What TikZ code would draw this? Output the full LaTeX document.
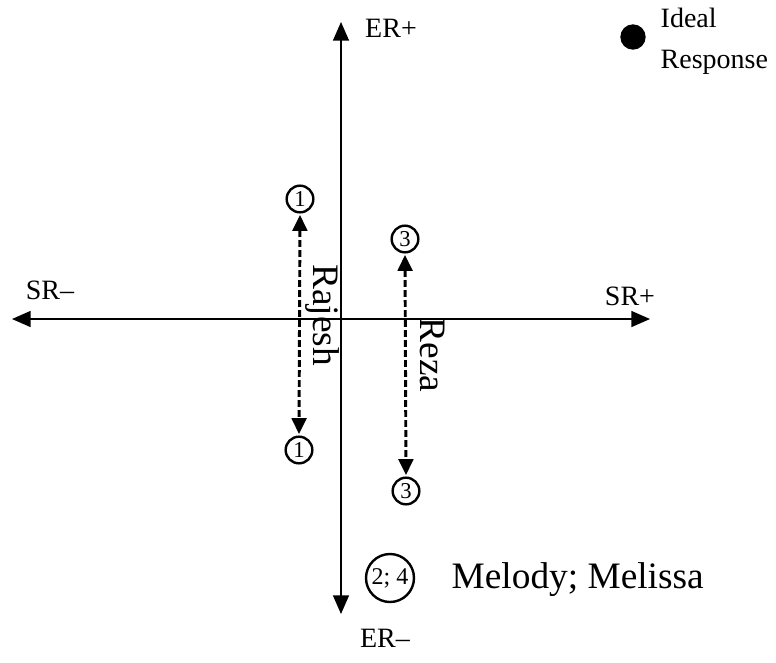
\documentclass[tikz,border=0pt]{standalone}
\usepackage{fontspec}
\setmainfont{Liberation Serif}
\usetikzlibrary{arrows.meta}
\begin{document}
\begin{tikzpicture}[x=0.75pt,y=-0.75pt,
  axis/.style={line width=1.1pt,-{Triangle[length=14pt,width=12pt]}},
  spanline/.style={line width=2.2pt,dash pattern=on 5pt off 2.5pt,
    {Triangle[length=12pt,width=11pt]}-{Triangle[length=12pt,width=11pt]}},
  numbox/.style={circle,draw,line width=1.8pt,inner sep=0pt,minimum size=20pt,font=\fontsize{17}{17}\selectfont},
  axlabel/.style={font=\fontsize{21}{21}\selectfont},
  person/.style={font=\fontsize{28}{28}\selectfont}]
\useasboundingbox (0,0) rectangle (776,662);
% axes
\coordinate (o) at (341,319);
\coordinate (top) at (341,22);
\coordinate (bot) at (341,614);
\coordinate (lft) at (12,319);
\coordinate (rgt) at (650,319);
\draw[axis] (o) -- (top);
\draw[axis] (o) -- (bot);
\draw[axis] (o) -- (lft);
\draw[axis] (o) -- (rgt);
\node[axlabel] (erp) at (391,28) {ER+};
\node[axlabel] (erm) at (385,638) {ER--};
\node[axlabel] (srm) at (50,290) {SR--};
\node[axlabel] (srp) at (630,296) {SR+};
% Rajesh
\node[numbox] (r1) at (300,199) {1};
\node[numbox] (r2) at (299,450) {1};
\draw[spanline] ([yshift=-1pt]r1.south) -- ([yshift=1pt]r2.north);
\node[person,rotate=-90] (rajesh) at (322,315) {Rajesh};
% Reza
\node[numbox] (z1) at (405,239) {3};
\node[numbox] (z2) at (406,491) {3};
\draw[spanline] ([yshift=-1pt]z1.south) -- ([yshift=1pt]z2.north);
\node[person,rotate=-90] (reza) at (433,355) {Reza};
% Melody; Melissa
\node[circle,draw,line width=1.8pt,inner sep=0pt,minimum size=36pt,font=\fontsize{18}{18}\selectfont] (mm) at (390,578) {2; 4};
\node[person,anchor=west] (mmtxt) at (447,580) {Melody; Melissa};
% ideal response
\node[circle,fill,inner sep=0pt,minimum size=19pt] (ideal) at (633,37) {};
\node[axlabel,anchor=west,align=left] (idealtxt) at (656,41) {Ideal\\[10pt]Response};
\end{tikzpicture}
\end{document}
